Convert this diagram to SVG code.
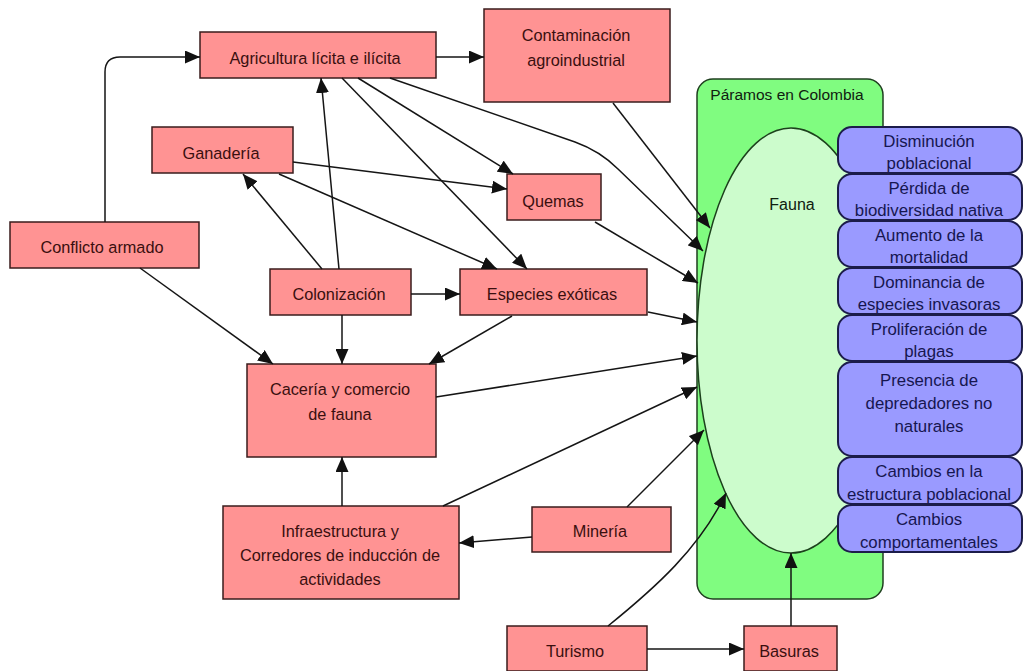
<svg xmlns="http://www.w3.org/2000/svg" width="1023" height="671" viewBox="0 0 1023 671">
<defs>
<style>
.r{fill:#ff9393;stroke:#3a1c1c;stroke-width:1.5}
.b{fill:#9a9aff;stroke:#1c1c4a;stroke-width:2}
.t{font-family:"Liberation Sans",Arial,sans-serif;font-size:16.3px;fill:#3a0f0f;text-anchor:middle}
.bt{font-family:"Liberation Sans",Arial,sans-serif;font-size:16.8px;fill:#161650;text-anchor:middle}
.c{fill:none;stroke:#151515;stroke-width:1.5;marker-end:url(#ah)}
</style>
<marker id="ah" viewBox="0 0 15 13" refX="15" refY="6.5" markerWidth="15" markerHeight="13" orient="auto" markerUnits="userSpaceOnUse">
<path d="M0,0 L15,6.5 L0,13 z" fill="#111"/>
</marker>
</defs>
<rect width="1023" height="671" fill="#ffffff"/>

<g id="paramos">
<rect x="697" y="79" width="186" height="520" rx="16" fill="#80fc80" stroke="#1f3f1f" stroke-width="1.5"/>
<text x="787" y="100" style="font-family:'Liberation Sans',Arial,sans-serif;font-size:15.5px;fill:#102010;text-anchor:middle">Páramos en Colombia</text>
</g>
<g id="fauna">
<ellipse cx="791" cy="340.5" rx="94" ry="212.5" fill="#ccfccc" stroke="#1c401c" stroke-width="1.5"/>
<text x="792" y="210" style="font-family:'Liberation Sans',Arial,sans-serif;font-size:16px;fill:#102010;text-anchor:middle">Fauna</text>
</g>

<g id="efectos">
<g id="disminucion"><rect class="b" x="838" y="127" width="184" height="46" rx="14"/><text class="bt" x="929" y="147">Disminución</text><text class="bt" x="929" y="169">poblacional</text></g>
<g id="perdida"><rect class="b" x="838" y="174" width="184" height="46" rx="14"/><text class="bt" x="929" y="194">Pérdida de</text><text class="bt" x="929" y="216">biodiversidad nativa</text></g>
<g id="aumento"><rect class="b" x="838" y="221" width="184" height="46" rx="14"/><text class="bt" x="929" y="241">Aumento de la</text><text class="bt" x="929" y="263">mortalidad</text></g>
<g id="dominancia"><rect class="b" x="838" y="268" width="184" height="46" rx="14"/><text class="bt" x="929" y="288">Dominancia de</text><text class="bt" x="929" y="310">especies invasoras</text></g>
<g id="proliferacion"><rect class="b" x="838" y="315" width="184" height="46" rx="14"/><text class="bt" x="929" y="335">Proliferación de</text><text class="bt" x="929" y="357">plagas</text></g>
<g id="presencia"><rect class="b" x="838" y="362" width="184" height="94" rx="14"/><text class="bt" x="929" y="386">Presencia de</text><text class="bt" x="929" y="409">depredadores no</text><text class="bt" x="929" y="432">naturales</text></g>
<g id="cambios-estructura"><rect class="b" x="838" y="457" width="184" height="47" rx="14"/><text class="bt" x="929" y="477">Cambios en la</text><text class="bt" x="929" y="500">estructura poblacional</text></g>
<g id="cambios-comport"><rect class="b" x="838" y="505" width="184" height="47" rx="14"/><text class="bt" x="929" y="525">Cambios</text><text class="bt" x="929" y="548">comportamentales</text></g>
</g>

<g id="agricultura"><rect class="r" x="200" y="32" width="236" height="46"/><text class="t" x="315" y="64">Agricultura lícita e ilícita</text></g>
<g id="contaminacion"><rect class="r" x="484" y="9" width="186" height="93"/><text class="t" x="576" y="41">Contaminación</text><text class="t" x="576" y="66">agroindustrial</text></g>
<g id="ganaderia"><rect class="r" x="152" y="127" width="141" height="46"/><text class="t" x="221" y="159">Ganadería</text></g>
<g id="quemas"><rect class="r" x="507" y="174" width="94" height="46"/><text class="t" x="553" y="207">Quemas</text></g>
<g id="conflicto"><rect class="r" x="10" y="222" width="189" height="46"/><text class="t" x="102" y="253">Conflicto armado</text></g>
<g id="colonizacion"><rect class="r" x="270" y="269" width="141" height="46"/><text class="t" x="339" y="300">Colonización</text></g>
<g id="especies"><rect class="r" x="460" y="269" width="187" height="46"/><text class="t" x="552" y="300">Especies exóticas</text></g>
<g id="caceria"><rect class="r" x="247" y="364" width="189" height="93"/><text class="t" x="340" y="395">Cacería y comercio</text><text class="t" x="340" y="420">de fauna</text></g>
<g id="infraestructura"><rect class="r" x="223" y="506" width="236" height="93"/><text class="t" x="340" y="537">Infraestructura y</text><text class="t" x="340" y="561">Corredores de inducción de</text><text class="t" x="340" y="585">actividades</text></g>
<g id="mineria"><rect class="r" x="532" y="507" width="139" height="45"/><text class="t" x="600" y="537">Minería</text></g>
<g id="turismo"><rect class="r" x="507" y="626" width="140" height="45"/><text class="t" x="575" y="657">Turismo</text></g>
<g id="basuras"><rect class="r" x="744" y="626" width="93" height="45"/><text class="t" x="789" y="657">Basuras</text></g>

<g id="connectors">
<path class="c" d="M105,222 V72 Q105,57 120,57 H200"/>
<path class="c" d="M436,57 H484"/>
<path class="c" d="M339,269 L321,78"/>
<path class="c" d="M322,269 L243,174"/>
<path class="c" d="M358,78 L513,174"/>
<path class="c" d="M342,78 L527,269"/>
<path class="c" d="M390,78 L575,142 Q600,151 618,169 L703,251"/>
<path class="c" d="M613,103 L710,228"/>
<path class="c" d="M595,222 L698,283"/>
<path class="c" d="M293,162 L507,189"/>
<path class="c" d="M279,174 L497,269"/>
<path class="c" d="M411,294 H460"/>
<path class="c" d="M342,315 V364"/>
<path class="c" d="M140,268 L273,364"/>
<path class="c" d="M512,316 L429,364"/>
<path class="c" d="M648,312 L697,322"/>
<path class="c" d="M436,397 L697,356"/>
<path class="c" d="M443,506 L697,387"/>
<path class="c" d="M627,507 L704,430"/>
<path class="c" d="M532,537 L459,543"/>
<path class="c" d="M342,506 V457"/>
<path class="c" d="M608,626 C655,588 700,548 726,493"/>
<path class="c" d="M647,649 H744"/>
<path class="c" d="M791,626 V553"/>
</g>
</svg>
